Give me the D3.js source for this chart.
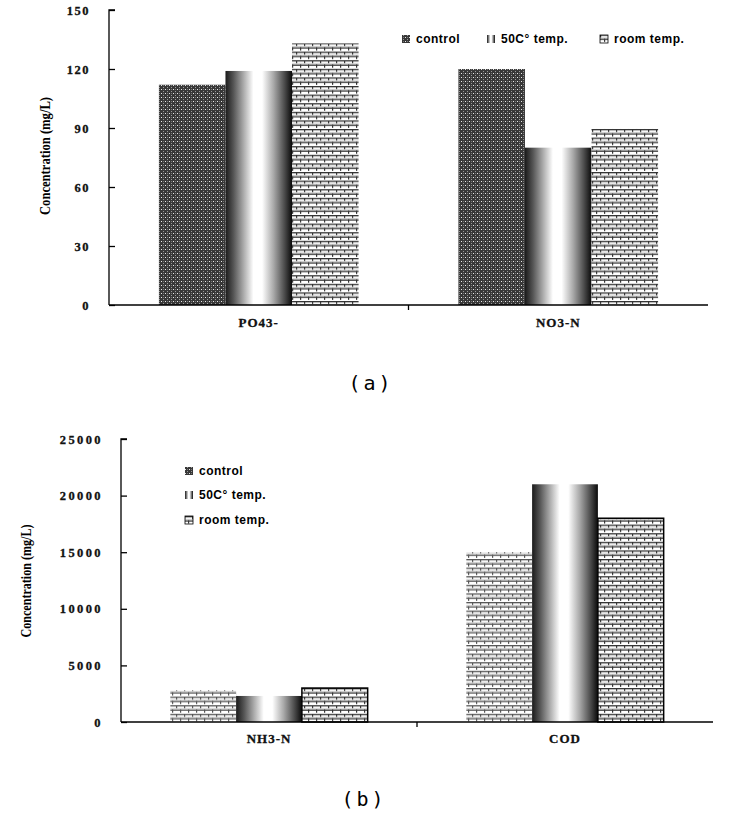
<!DOCTYPE html>
<html><head><meta charset="utf-8">
<script src="https://cdn.jsdelivr.net/npm/d3@7"></script>
<style>body{margin:0;background:#fff}svg{display:block}</style>
</head><body>
<svg id="c" width="733" height="823"></svg>
<script>
// ---- data ----
const seriesNames = ["control", "50C\u00b0 temp.", "room temp."];
const catsA = ["PO43-", "NO3-N"];
const controlA = [112, 120];
const temp50A = [119, 80];
const roomA = [133, 90];
const ticksA = [0, 30, 60, 90, 120, 150];

const catsB = ["NH3-N", "COD"];
const controlB = [2800, 15000];
const temp50B = [2300, 21000];
const roomB = [3000, 18000];
const ticksB = [0, 5000, 10000, 15000, 20000, 25000];

const svg = d3.select("#c");
const defs = svg.append("defs");

// control pattern: dark with light dots
const pc = defs.append("pattern").attr("id","pCtrl").attr("patternUnits","userSpaceOnUse").attr("width",4).attr("height",4);
pc.append("rect").attr("width",4).attr("height",4).attr("fill","#383838");
pc.append("rect").attr("x",1).attr("y",1).attr("width",1).attr("height",1).attr("fill","#e8e8e8");
pc.append("rect").attr("x",3).attr("y",3).attr("width",1).attr("height",1).attr("fill","#999");
pc.append("rect").attr("x",3).attr("y",1).attr("width",1).attr("height",1).attr("fill","#777");

// brick pattern
function brick(id, bg, line) {
  const p = defs.append("pattern").attr("id",id).attr("patternUnits","userSpaceOnUse").attr("width",8).attr("height",8.6);
  p.append("rect").attr("width",8).attr("height",8.6).attr("fill",bg);
  p.append("rect").attr("x",0).attr("y",0).attr("width",8).attr("height",1.3).attr("fill",line);
  p.append("rect").attr("x",0).attr("y",4.3).attr("width",8).attr("height",1.3).attr("fill",line);
  p.append("rect").attr("x",0).attr("y",0).attr("width",1.2).attr("height",3.2).attr("fill",line);
  p.append("rect").attr("x",4).attr("y",4.3).attr("width",1.2).attr("height",3.2).attr("fill",line);
  p.append("rect").attr("x",0).attr("y",2.8).attr("width",8).attr("height",0.6).attr("fill","#bbb");
}
brick("pBrick", "#fff", "#333");
brick("pBrick2", "#fff", "#555");

// cylinder gradient
const g = defs.append("linearGradient").attr("id","gCyl").attr("x1","0").attr("x2","1").attr("y1","0").attr("y2","0");
[[0,"#1a1a1a"],[0.12,"#555"],[0.3,"#bbb"],[0.42,"#fff"],[0.55,"#fff"],[0.72,"#aaa"],[0.9,"#444"],[1,"#0a0a0a"]]
  .forEach(([o,c]) => g.append("stop").attr("offset",o).attr("stop-color",c));

const serif = "'Liberation Serif','Times New Roman',serif";
const sans = "'Liberation Sans',Arial,sans-serif";

function chart(cfg) {
  const {cats, series, ticks, x0, x1, y0, y1, max, fills, legendFills, strokes, tickRight, tickLS, title, legend, label, labelPos, catY} = cfg;
  const root = svg.append("g");
  const y = d3.scaleLinear().domain([0, max]).range([y0, y1]);
  const x = d3.scaleBand().domain(cats).range([x0, x1]);
  const xs = d3.scaleBand().domain(d3.range(series.length)).range([x.bandwidth()/6, x.bandwidth()*5/6]);

  // bars
  cats.forEach((c, ci) => {
    series.forEach((s, si) => {
      root.append("rect")
        .attr("x", x(c) + xs(si)).attr("width", xs.bandwidth())
        .attr("y", y(s[ci])).attr("height", y(0) - y(s[ci]))
        .attr("fill", fills[si])
        .attr("stroke", strokes[si] || "none").attr("stroke-width", strokes[si] ? 1.5 : 0);
    });
  });

  // y axis
  const ya = root.append("g").attr("transform", `translate(${x0},0)`)
    .call(d3.axisRight(y).tickValues(ticks).tickSize(6).tickFormat(""));
  ya.select(".domain").attr("d", `M6,${y1}H0V${y0}`).attr("stroke","#000").attr("stroke-width",1.3);
  ya.selectAll(".tick line").attr("stroke","#000").attr("stroke-width",1.3);
  ticks.forEach(t => {
    root.append("text").attr("x", tickRight).attr("y", y(t) + 4.5)
      .attr("text-anchor","end").attr("font-family", serif).attr("font-weight","bold")
      .attr("font-size", 12.5).attr("letter-spacing", tickLS).attr("fill","#111")
      .attr("stroke","#111").attr("stroke-width",0.3).text(d3.format("d")(t));
  });

  // x axis
  const xa = root.append("g").attr("transform", `translate(0,${y0})`)
    .call(d3.axisBottom(x).tickSize(5).tickFormat(""));
  xa.select(".domain").attr("d", `M${x0},0H${x1}`).attr("stroke","#000").attr("stroke-width",1.3);
  xa.selectAll(".tick").remove();
  root.append("line").attr("x1", x(cats[1])).attr("x2", x(cats[1])).attr("y1", y0).attr("y2", y0 + 5)
    .attr("stroke","#000").attr("stroke-width",1.3);
  cats.forEach(c => {
    root.append("text").attr("x", x(c) + x.bandwidth()/2).attr("y", catY)
      .attr("text-anchor","middle").attr("font-family", serif).attr("font-weight","bold")
      .attr("font-size", 13).attr("letter-spacing", 1).attr("fill","#111")
      .attr("stroke","#111").attr("stroke-width",0.3).text(c);
  });

  // y title
  root.append("text").attr("transform", `translate(${title.x},${title.y}) rotate(-90)`)
    .attr("text-anchor","middle").attr("font-family", serif).attr("font-weight","bold")
    .attr("font-size", 14.5).attr("textLength", title.len).attr("lengthAdjust","spacingAndGlyphs")
    .text("Concentration (mg/L)");

  // legend
  legend.forEach((p, i) => {
    root.append("rect").attr("x", p[0]).attr("y", p[1] - 8).attr("width", 8).attr("height", 8)
      .attr("fill", legendFills[i]).attr("stroke", i === 2 ? "#000" : "none").attr("stroke-width", 0.8);
    root.append("text").attr("x", p[0] + 14).attr("y", p[1])
      .attr("font-family", sans).attr("font-weight","bold").attr("font-size", 12)
      .attr("letter-spacing", 0.5).text(seriesNames[i]);
  });

  // panel label
  root.append("text").attr("x", labelPos[0]).attr("y", labelPos[1]).attr("text-anchor","middle")
    .attr("font-family","'DejaVu Sans Mono','Noto Sans CJK KR',monospace").attr("font-size", 20)
    .attr("font-weight", 300).attr("letter-spacing", 3).text(label);
}

chart({
  cats: catsA, series: [controlA, temp50A, roomA], ticks: ticksA,
  x0: 109, x1: 708, y0: 305, y1: 10, max: 150,
  fills: ["url(#pCtrl)", "url(#gCyl)", "url(#pBrick)"],
  legendFills: ["url(#pCtrl)", "url(#gCyl)", "url(#pBrick)"], strokes: [null, null, null],
  tickRight: 90, tickLS: 1.5,
  title: {x: 50, y: 156, len: 118},
  legend: [[402, 43], [487, 43], [600, 43]],
  label: "(a)", labelPos: [371, 390], catY: 327
});

chart({
  cats: catsB, series: [controlB, temp50B, roomB], ticks: ticksB,
  x0: 121, x1: 713, y0: 722, y1: 439, max: 25000,
  fills: ["url(#pBrick2)", "url(#gCyl)", "url(#pBrick)"],
  legendFills: ["url(#pCtrl)", "url(#gCyl)", "url(#pBrick)"], strokes: [null, null, "#000"],
  tickRight: 103, tickLS: 2.4,
  title: {x: 31, y: 581, len: 113},
  legend: [[185, 475], [185, 499], [185, 524]],
  label: "(b)", labelPos: [364, 806], catY: 743
});
</script>
</body></html>
